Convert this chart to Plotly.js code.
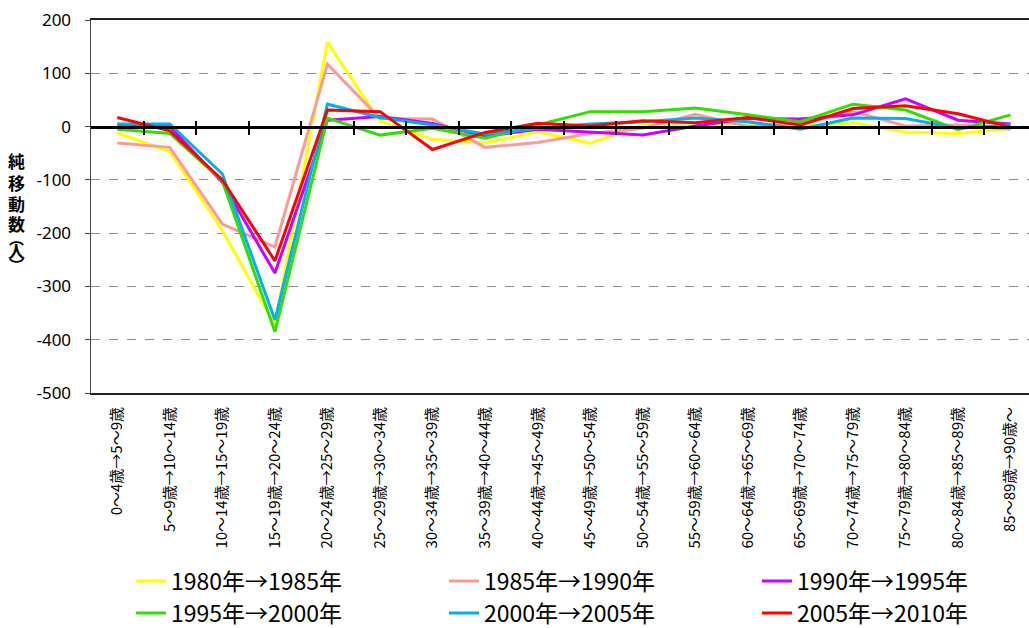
<!DOCTYPE html>
<html>
<head>
<meta charset="utf-8">
<script src="https://cdn.plot.ly/plotly-3.0.1.min.js"></script>
<style>html,body{margin:0;padding:0;background:#fff;}#chart{width:1029px;height:628px;}</style>
</head>
<body>
<div id="chart"></div>
<script>
// Age-cohort categories (x axis tick labels)
const categories = [
  "0～4歳→5～9歳", "5～9歳→10～14歳", "10～14歳→15～19歳", "15～19歳→20～24歳",
  "20～24歳→25～29歳", "25～29歳→30～34歳", "30～34歳→35～39歳", "35～39歳→40～44歳",
  "40～44歳→45～49歳", "45～49歳→50～54歳", "50～54歳→55～59歳", "55～59歳→60～64歳",
  "60～64歳→65～69歳", "65～69歳→70～74歳", "70～74歳→75～79歳", "75～79歳→80～84歳",
  "80～84歳→85～89歳", "85～89歳→90歳～"
];

// Series names
const seriesNames = ["1980年→1985年", "1985年→1990年", "1990年→1995年",
                     "1995年→2000年", "2000年→2005年", "2005年→2010年"];

// Net migration (persons)
const s1980_1985 = [-12, -47, -195, -372, 158, 10, -24, -31, -10, -31, 3, 0, 6, 0, 7, -10, -13, -3];
const s1985_1990 = [-31, -39, -183, -226, 117, 15, 14, -39, -30, -13, -3, 23, 0, 6, 28, 1, 3, -5];
const s1990_1995 = [2, 0, -105, -275, 12, 19, 6, -18, -5, -11, -16, 1, 15, 14, 22, 52, 12, 5];
const s1995_2000 = [-5, -13, -102, -385, 16, -16, -3, -22, 3, 28, 28, 35, 22, 9, 42, 31, -6, 22];
const s2000_2005 = [5, 5, -89, -363, 42, 17, 3, -14, -3, 5, 9, 16, 9, -5, 16, 15, -3, 3];
const s2005_2010 = [17, -8, -100, -252, 31, 28, -43, -11, 6, 1, 11, 7, 17, 3, 34, 39, 24, -1];

// Y axis ticks
const yTickVals = [200, 100, 0, -100, -200, -300, -400, -500];
const yTickText = ["200", "100", "0", "-100", "-200", "-300", "-400", "-500"];

// Y axis title characters (stacked vertically)
const yTitleMain = ["純", "移", "動", "数"];
const yTitleUnit = ["︵", "人", "︶"];

const seriesValues = [s1980_1985, s1985_1990, s1990_1995, s1995_2000, s2000_2005, s2005_2010];
const colors = ["#FFFF00", "#FF9999", "#CC00FF", "#33DD00", "#00B0F0", "#FF0000"];

const boundaries = categories.slice(1).map((c, i) => i + 0.5);
const xRange = [-0.5, 17.35];

const traces = seriesValues.map((vals, k) => ({
  type: "scatter", mode: "lines",
  x: categories, y: vals, name: seriesNames[k],
  line: {color: colors[k], width: 3},
  legend: k < 3 ? "legend" : "legend2",
  hoverinfo: "skip"
}));

const fontJP = "Noto Sans CJK JP, sans-serif";
const legendCommon = {
  orientation: "h", xref: "container", yref: "container",
  xanchor: "left", yanchor: "middle",
  entrywidth: 268, entrywidthmode: "pixels",
  font: {family: fontJP, size: 23, color: "#000"},
  traceorder: "normal", bgcolor: "rgba(0,0,0,0)", borderwidth: 0
};

const layout = {
  width: 1029, height: 628,
  margin: {l: 91, r: 0, t: 20, b: 235, autoexpand: false},
  paper_bgcolor: "#fff", plot_bgcolor: "#fff",
  showlegend: true,
  xaxis: {
    type: "category", range: xRange,
    showline: true, linecolor: "#222", linewidth: 2, mirror: true,
    showgrid: false, zeroline: false, ticks: "",
    ticklabelstandoff: 6,
    tickangle: -90, tickfont: {family: fontJP, size: 15, color: "#000"},
    automargin: false
  },
  xaxis2: {
    overlaying: "x", anchor: "free", position: 500/700, type: "linear",
    range: xRange, showline: true, linecolor: "#000", linewidth: 3,
    showgrid: false, zeroline: false, showticklabels: false,
    tickmode: "array", tickvals: boundaries,
    ticks: "outside", ticklen: 6, tickwidth: 2, tickcolor: "#000"
  },
  xaxis3: {
    overlaying: "x", anchor: "free", position: 500/700, type: "linear",
    range: xRange, showline: false,
    showgrid: false, zeroline: false, showticklabels: false,
    tickmode: "array", tickvals: boundaries,
    ticks: "inside", ticklen: 6, tickwidth: 2, tickcolor: "#000"
  },
  yaxis: {
    range: [-500, 200], tickmode: "array", tickvals: yTickVals, ticktext: yTickText,
    showline: true, linecolor: "#444", linewidth: 1.5,
    ticks: "outside", ticklen: 5, tickcolor: "#444",
    ticklabelstandoff: 10,
    showgrid: true, gridcolor: "#8c8c8c", griddash: "dash", gridwidth: 1,
    zeroline: false,
    tickfont: {family: "Noto Sans, sans-serif", size: 17, color: "#000"}
  },
  legend: Object.assign({}, legendCommon, {x: 131/1029, y: 1 - 581/628}),
  legend2: Object.assign({}, legendCommon, {x: 131/1029, y: 1 - 613/628}),
  annotations: []
};

const titleFont = {family: fontJP, size: 17, color: "#000"};
const unitFont = {family: fontJP, size: 15, color: "#000"};
const mainY = [160, 182, 203, 223];
yTitleMain.forEach((ch, i) => layout.annotations.push({
  xref: "paper", yref: "paper", x: -75/938, y: 1 - (mainY[i] - 20)/373,
  xanchor: "center", yanchor: "middle", showarrow: false,
  text: "<b>" + ch + "</b>", font: titleFont
}));
const unitY = [237, 250, 264];
yTitleUnit.forEach((ch, i) => layout.annotations.push({
  xref: "paper", yref: "paper", x: -75/938, y: 1 - (unitY[i] - 20)/373,
  xanchor: "center", yanchor: "middle", showarrow: false,
  text: "<b>" + ch + "</b>", font: ch === "人" ? titleFont : unitFont
}));

// dummy invisible traces so overlay axes render
traces.push({type: "scatter", x: [0], y: [0], xaxis: "x2", mode: "none", showlegend: false, hoverinfo: "skip"});
traces.push({type: "scatter", x: [0], y: [0], xaxis: "x3", mode: "none", showlegend: false, hoverinfo: "skip"});

Plotly.newPlot("chart", traces, layout, {displayModeBar: false, staticPlot: true});
</script>
</body>
</html>
